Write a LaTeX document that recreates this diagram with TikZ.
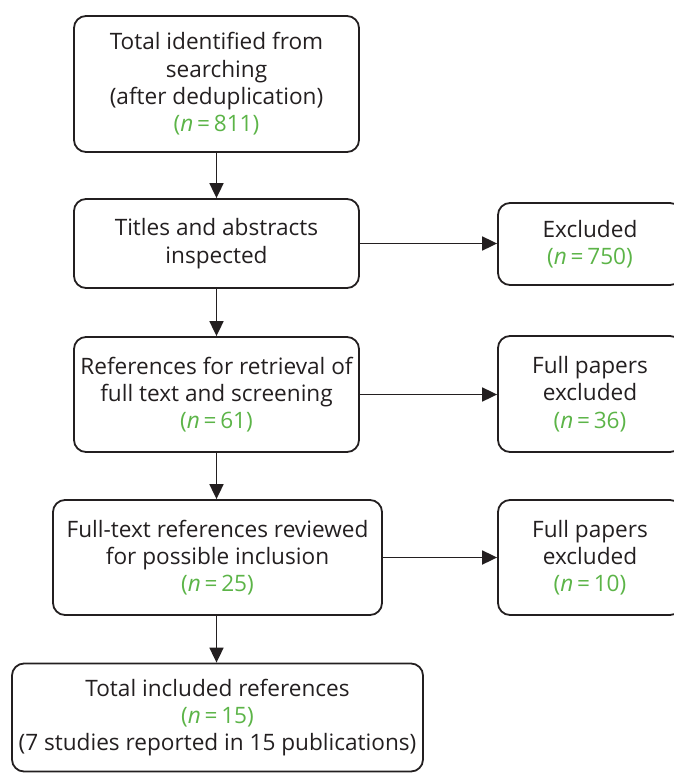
\documentclass[tikz,border=0pt]{standalone}
\usepackage{fontspec}
\setmainfont{Open Sans}
\usetikzlibrary{arrows.meta}
\definecolor{ngreen}{RGB}{92,180,72}
\definecolor{ink}{RGB}{35,31,32}
\newcommand{\nval}[1]{\textcolor{ngreen}{(\textit{n}\,=\,#1)}}
\begin{document}
\begin{tikzpicture}[x=1pt,y=-1pt,
  flowbox/.style={draw=ink,line width=1.8pt,rounded corners=12pt,align=center,
    inner sep=0pt,text=ink,font=\fontsize{22.6}{27.3}\selectfont},
  link/.style={draw=ink,line width=1.8pt,-{Triangle[length=15pt,width=14pt]}}]
\useasboundingbox (0,0) rectangle (673,773);
\node[flowbox,minimum width=285pt,minimum height=136pt] (b1) at (216.5,84)
  {Total identified from\\searching\\(after deduplication)\\\nval{811}};
\node[flowbox,minimum width=285pt,minimum height=89pt] (b2) at (216.5,243.5)
  {Titles and abstracts\\inspected};
\node[flowbox,minimum width=285pt,minimum height=115pt] (b3) at (216.5,394.5)
  {References for retrieval of\\full text and screening\\\nval{61}};
\node[flowbox,minimum width=329pt,minimum height=115pt] (b4) at (217.5,557.5)
  {Full-text references reviewed\\for possible inclusion\\\nval{25}};
\node[flowbox,minimum width=411pt,minimum height=108pt] (b5) at (217.5,717.5)
  {Total included references\\\nval{15}\\(7 studies reported in 15 publications)};
\node[flowbox,minimum width=184pt,minimum height=82pt] (r1) at (590,244)
  {Excluded\\\nval{750}};
\node[flowbox,minimum width=184pt,minimum height=116pt] (r2) at (590,394)
  {Full papers\\excluded\\\nval{36}};
\node[flowbox,minimum width=184pt,minimum height=115pt] (r3) at (590,557.5)
  {Full papers\\excluded\\\nval{10}};
\draw[link] (b1.south) -- (b2.north);
\draw[link] (b2.south) -- (b3.north);
\draw[link] (b3.south) -- (b3.south |- b4.north);
\draw[link] (b3.south |- b4.south) -- (b3.south |- b5.north);
\draw[link] (b2.east) -- (b2.east -| r1.west);
\draw[link] (b3.east) -- (b3.east -| r2.west);
\draw[link] (b4.east) -- (b4.east -| r3.west);
\end{tikzpicture}
\end{document}
